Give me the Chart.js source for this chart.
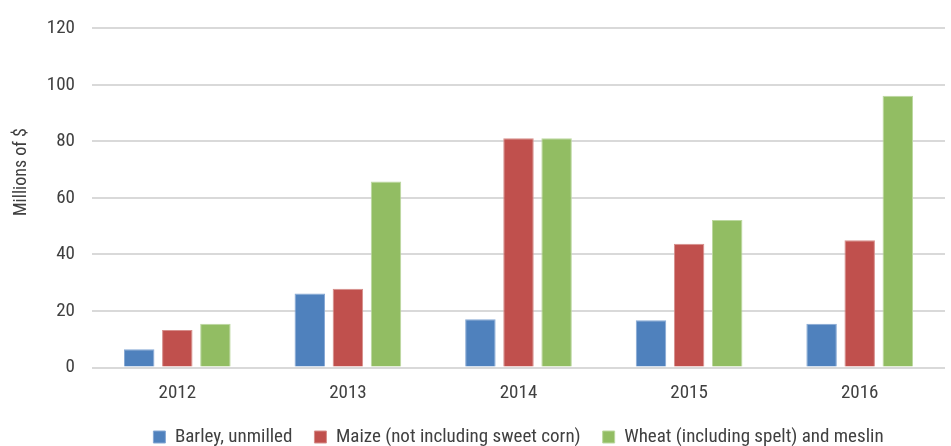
<!DOCTYPE html>
<html>
<head>
<meta charset="utf-8">
<script src="https://cdn.jsdelivr.net/npm/chart.js@4.4.1/dist/chart.umd.min.js"></script>
<style>
  html, body { margin: 0; padding: 0; background: #ffffff; }
  #wrap { width: 951px; height: 446px; position: relative; overflow: hidden; }
</style>
</head>
<body>
<div id="wrap"><canvas id="chart"></canvas></div>
<script>
// Export values by year, millions of dollars
const years = ['2012', '2013', '2014', '2015', '2016'];
const barley = [6.5, 26.2, 17.1, 16.7, 15.5];
const maize = [13.3, 27.9, 81.1, 43.8, 45.0];
const wheat = [15.5, 65.8, 81.1, 52.2, 96.2];
const seriesNames = [
  'Barley, unmilled',
  'Maize (not including sweet corn)',
  'Wheat (including spelt) and meslin'
];
const yTicks = [0, 20, 40, 60, 80, 100, 120];
const yTitle = 'Millions of $';

const FONT = "'Roboto Condensed', 'DejaVu Sans Condensed', sans-serif";
const TEXT = '#404040';

// Rotated y-axis caption, placed beside the upper half of the axis
const yCaption = {
  id: 'yCaption',
  afterDraw(chart) {
    const ctx = chart.ctx;
    ctx.save();
    ctx.translate(21, 172);
    ctx.rotate(-Math.PI / 2);
    ctx.font = "18px " + FONT;
    ctx.fillStyle = TEXT;
    ctx.textAlign = 'center';
    ctx.textBaseline = 'middle';
    ctx.fillText(yTitle, 0, 0);
    ctx.restore();
  }
};

const palette = [
  { fill: '#4F81BD', edge: '#86a8d4' },
  { fill: '#C0504D', edge: '#d68e8b' },
  { fill: '#92BD63', edge: '#bcd8a0' }
];

new Chart(document.getElementById('chart'), {
  type: 'bar',
  data: {
    labels: years,
    datasets: [barley, maize, wheat].map((values, i) => ({
      label: seriesNames[i],
      data: values,
      backgroundColor: palette[i].fill,
      borderColor: palette[i].edge,
      borderWidth: 1,
      barPercentage: 0.8,
      categoryPercentage: 0.67
    }))
  },
  options: {
    responsive: true,
    maintainAspectRatio: false,
    animation: false,
    layout: { padding: { top: 12, right: 6, left: 0, bottom: -10.5 } },
    plugins: {
      tooltip: { enabled: false },
      legend: {
        position: 'bottom',
        fullSize: false,
        labels: {
          font: { family: FONT, size: 19 },
          color: TEXT,
          boxWidth: 12,
          boxHeight: 12,
          padding: 22,
          useBorderRadius: false
        }
      }
    },
    scales: {
      x: {
        afterFit(scale) { scale.height = 38; },
        grid: { display: false, drawTicks: false },
        border: { display: false },
        ticks: {
          font: { family: FONT, size: 19 },
          color: TEXT,
          padding: 14,
          maxRotation: 0
        }
      },
      y: {
        min: 0,
        max: 120,
        afterBuildTicks(scale) {
          scale.ticks = yTicks.map(v => ({ value: v }));
        },
        afterFit(scale) { scale.width = 92; },
        grid: { color: '#d9d9d9', lineWidth: 2, drawTicks: false },
        border: { display: false },
        ticks: {
          font: { family: FONT, size: 19 },
          color: TEXT,
          padding: 17
        }
      }
    }
  },
  plugins: [yCaption]
});
</script>
</body>
</html>
